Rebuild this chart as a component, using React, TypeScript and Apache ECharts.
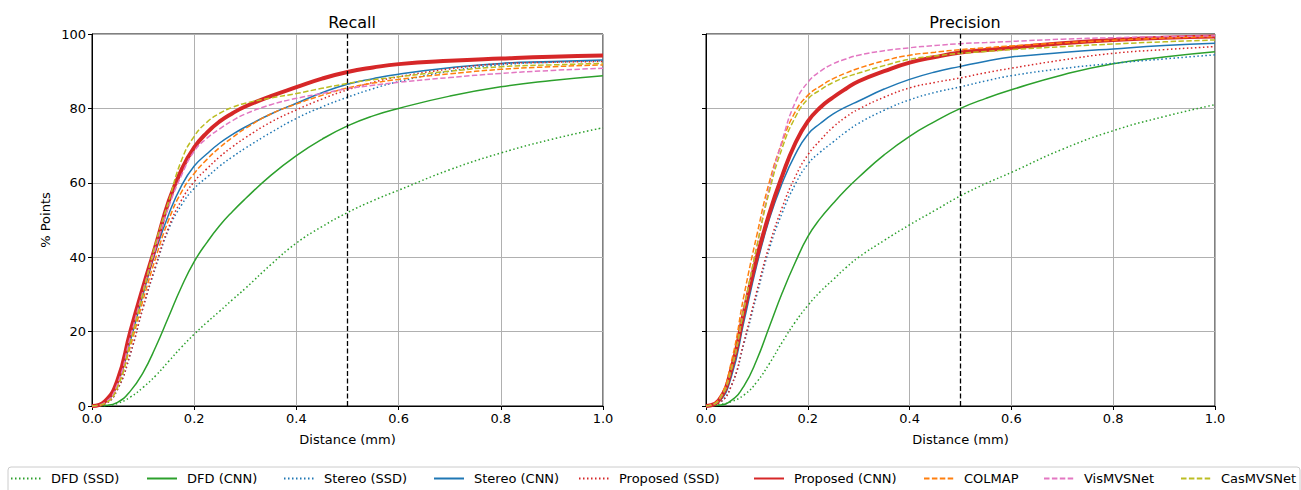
import React, { useEffect, useRef } from "react";
import * as echarts from "echarts";

const XS = [0, 0.025, 0.05, 0.075, 0.1, 0.125, 0.15, 0.175, 0.2, 0.225, 0.25, 0.275, 0.3, 0.35, 0.4, 0.45, 0.5, 0.55, 0.6, 0.7, 0.8, 0.9, 1.0];

const SERIES_NAMES = ["DFD (SSD)", "DFD (CNN)", "Stereo (SSD)", "Stereo (CNN)", "Proposed (SSD)", "Proposed (CNN)", "COLMAP", "VisMVSNet", "CasMVSNet"];

// Recall (%)
const R_DFD_SSD = [0, 0.1, 0.7, 2.4, 5, 8.2, 12, 15.8, 19.3, 22.5, 25.5, 28.6, 31.6, 38, 43.8, 48.2, 52, 55.2, 58, 63.5, 68, 71.7, 74.8];
const R_DFD_CNN = [0, 0.15, 1, 4, 9, 16, 24, 32, 38.8, 44, 48.5, 52.3, 55.7, 62, 67.3, 71.7, 75.3, 78, 80, 83.3, 85.8, 87.5, 88.8];
const R_STEREO_SSD = [0, 0.6, 4.5, 14, 26.5, 37.5, 47.5, 54, 58.5, 61.5, 64.5, 67, 69.3, 73.5, 77.3, 80.4, 83, 85.3, 87.2, 90, 91.7, 92.4, 92.8];
const R_STEREO_CNN = [0, 0.9, 6, 17.5, 30, 41.8, 51.5, 59.2, 64.5, 67.8, 70.7, 73, 75, 78.5, 81.4, 84.2, 86.5, 88, 89.2, 90.9, 92.1, 92.6, 93];
const R_PROP_SSD = [0, 0.6, 4.5, 14, 26.5, 38, 48, 55.3, 60.3, 63.8, 67, 69.7, 72.1, 76.3, 79.6, 82.5, 85, 87, 88.5, 90.6, 92, 92.4, 92.6];
const R_PROP_CNN = [0, 1.2, 7, 20, 32, 43.3, 55, 63.5, 69.5, 73.5, 76.5, 78.7, 80.5, 83.3, 85.7, 88, 89.8, 91, 91.9, 92.8, 93.4, 93.9, 94.2];
const R_COLMAP = [0, 0.7, 5.5, 16, 28.5, 40, 50, 57.5, 62.5, 66.3, 69.5, 72.2, 74.6, 78.5, 81.2, 83.5, 85.5, 86.8, 87.8, 89.3, 90.5, 91.2, 91.7];
const R_VIS = [0, 0.9, 6, 18.5, 31, 42.8, 53.5, 62, 68.5, 72, 74.5, 76.7, 78.5, 81, 82.7, 84, 85.3, 86.2, 87, 88.3, 89.4, 90.2, 90.8];
const R_CAS = [0, 0.7, 5, 17, 30.5, 44, 55, 66, 72.5, 76.3, 78.7, 80.3, 81.4, 82.8, 84, 85.4, 86.7, 87.7, 88.5, 90, 91.2, 91.7, 92.1];

// Precision (%)
const P_DFD_SSD = [0, 0.3, 1.2, 3, 6.5, 11.5, 17.2, 22.5, 27, 30.8, 34, 37.2, 40, 44.5, 48.7, 52.6, 56.5, 59.8, 62.8, 69, 74, 77.8, 81];
const P_DFD_CNN = [0, 0.2, 1.5, 5.5, 12.5, 21.5, 30.5, 38.5, 45.5, 50.5, 54.5, 58.2, 61.5, 67.5, 72.5, 76.5, 80, 82.7, 85, 89, 92, 93.8, 95.2];
const P_STEREO_SSD = [0, 0.8, 5.5, 17, 30, 42.5, 52, 59.5, 65, 68.3, 71, 73.7, 76, 79.5, 82.3, 84.3, 85.8, 87.4, 88.8, 90.7, 92.1, 93.3, 94.4];
const P_STEREO_CNN = [0, 1.1, 8, 23, 38, 50.5, 60, 67.5, 73, 76, 78.5, 80.4, 82, 85.2, 87.8, 89.8, 91.3, 92.7, 93.8, 95, 96, 96.9, 97.5];
const P_PROP_SSD = [0, 0.8, 5.5, 17.5, 31, 43.5, 53.5, 61.5, 67.5, 71.5, 75, 77.7, 79.8, 83, 85.5, 87, 88.2, 89.6, 90.8, 93, 94.8, 95.8, 96.6];
const P_PROP_CNN = [0, 1.5, 10, 25.5, 40, 52, 62, 70.5, 76.5, 80.3, 83, 85.3, 87.3, 90, 92.3, 93.8, 95, 95.7, 96.3, 97.5, 98.4, 99, 99.3];
const P_COLMAP = [0, 1.8, 12, 30, 46, 60.5, 71, 79, 83.5, 86, 88, 89.5, 90.8, 92.8, 94.3, 95.1, 95.8, 96.3, 96.8, 97.6, 98.3, 98.9, 99.3];
const P_VIS = [0, 1.5, 10, 26.5, 43, 59, 71.5, 81.5, 87, 90, 92, 93.3, 94.3, 95.5, 96.3, 96.9, 97.4, 97.7, 98, 98.6, 99, 99.3, 99.5];
const P_CAS = [0, 1.5, 10, 26.5, 43, 58, 69.5, 77.5, 82.5, 85, 87, 88.4, 89.5, 91.5, 93.2, 94.1, 94.8, 95.3, 95.8, 96.6, 97.3, 97.9, 98.4];

const RECALL = [R_DFD_SSD, R_DFD_CNN, R_STEREO_SSD, R_STEREO_CNN, R_PROP_SSD, R_PROP_CNN, R_COLMAP, R_VIS, R_CAS];
const PRECISION = [P_DFD_SSD, P_DFD_CNN, P_STEREO_SSD, P_STEREO_CNN, P_PROP_SSD, P_PROP_CNN, P_COLMAP, P_VIS, P_CAS];

const DOT = [1.5, 2.5];
const DASH = [5.5, 2.4];
const STYLES = [
  { color: "#2ca02c", type: DOT, width: 1.5 },
  { color: "#2ca02c", type: "solid", width: 1.5 },
  { color: "#1f77b4", type: DOT, width: 1.5 },
  { color: "#1f77b4", type: "solid", width: 1.5 },
  { color: "#d62728", type: DOT, width: 1.5 },
  { color: "#d62728", type: "solid", width: 4 },
  { color: "#ff7f0e", type: DASH, width: 1.5 },
  { color: "#e377c2", type: DASH, width: 1.5 },
  { color: "#bcbd22", type: DASH, width: 1.5 },
];

const FONT = "DejaVu Sans";
const LEGEND_LEFT = [10, 146, 283, 433, 578, 753, 923, 1043, 1180];

export default function App() {
  const ref = useRef<HTMLDivElement>(null);
  useEffect(() => {
    if (!ref.current) return;
    const chart = echarts.init(ref.current, null, { renderer: "svg" });
    const xAxisBase = (gridIndex: number) => ({
      type: "value",
      gridIndex,
      min: 0,
      max: 1,
      interval: 0.2,
      name: "Distance (mm)",
      nameLocation: "middle",
      nameGap: 27,
      nameTextStyle: { fontFamily: FONT, fontSize: 13, color: "#000" },
      axisLine: { show: true, onZero: false, lineStyle: { color: "#000", width: 1 } },
      axisTick: { show: true, inside: false, length: 4, lineStyle: { color: "#000" } },
      axisLabel: { fontFamily: FONT, fontSize: 13, color: "#000", margin: 6, formatter: (v: number) => v.toFixed(1) },
      splitLine: { show: true, lineStyle: { color: "#b0b0b0", width: 1 } },
    });
    const yAxisBase = (gridIndex: number, labels: boolean) => ({
      type: "value",
      gridIndex,
      min: 0,
      max: 100,
      interval: 20,
      name: labels ? "% Points" : "",
      nameLocation: "middle",
      nameGap: 40,
      nameTextStyle: { fontFamily: FONT, fontSize: 13, color: "#000" },
      axisLine: { show: true, lineStyle: { color: "#000", width: 1 } },
      axisTick: { show: true, inside: false, length: 4, lineStyle: { color: "#000" } },
      axisLabel: { show: labels, fontFamily: FONT, fontSize: 13, color: "#000", margin: 6 },
      splitLine: { show: true, lineStyle: { color: "#b0b0b0", width: 1 } },
    });
    const mkSeries = (data: number[][], gridIdx: number) =>
      data.map((vals, i) => ({
        name: SERIES_NAMES[i],
        type: "line",
        xAxisIndex: gridIdx,
        yAxisIndex: gridIdx,
        symbol: "none",
        smooth: 0.5,
        lineStyle: { ...STYLES[i], cap: "butt" },
        itemStyle: { color: STYLES[i].color },
        data: XS.map((x, k) => [x, vals[k]]),
        z: 2 + i,
        markLine:
          i === 0
            ? {
                silent: true,
                symbol: ["none", "none"],
                label: { show: false },
                lineStyle: { color: "#000", type: [5, 2.5], width: 1.3 },
                data: [{ xAxis: 0.5 }],
                z: 20,
              }
            : undefined,
      }));
    chart.setOption({
      animation: false,
      backgroundColor: "#fff",
      title: [
        { text: "Recall", left: 347, top: 9, textAlign: "center", textStyle: { fontFamily: FONT, fontSize: 16, fontWeight: "normal", color: "#000" } },
        { text: "Precision", left: 960, top: 9, textAlign: "center", textStyle: { fontFamily: FONT, fontSize: 16, fontWeight: "normal", color: "#000" } },
      ],
      graphic: [
        {
          type: "rect",
          shape: { x: 8, y: 467, width: 1292, height: 40, r: 3 },
          style: { fill: "#fff", stroke: "#cccccc", lineWidth: 1 },
          z: -1,
        },
      ],
      legend: SERIES_NAMES.map((name, i) => ({
        data: [name],
        left: LEGEND_LEFT[i],
        top: 472,
        itemWidth: 30,
        itemHeight: 12,
        padding: 0,
        itemStyle: { opacity: 0 },
        textStyle: { fontFamily: FONT, fontSize: 13, color: "#000", padding: [0, 0, 0, 5] },
        selectedMode: false,
      })),
      grid: [
        { left: 92, right: 698, top: 34, bottom: 84, show: true, borderColor: "#000", borderWidth: 1, backgroundColor: "transparent" },
        { left: 706, right: 86, top: 34, bottom: 84, show: true, borderColor: "#000", borderWidth: 1, backgroundColor: "transparent" },
      ],
      xAxis: [xAxisBase(0), xAxisBase(1)],
      yAxis: [yAxisBase(0, true), yAxisBase(1, false)],
      series: [...mkSeries(RECALL, 0), ...mkSeries(PRECISION, 1)],
    });
    return () => chart.dispose();
  }, []);
  return <div ref={ref} style={{ position: "absolute", left: 0, top: 0, width: 1301, height: 490 }} />;
}
